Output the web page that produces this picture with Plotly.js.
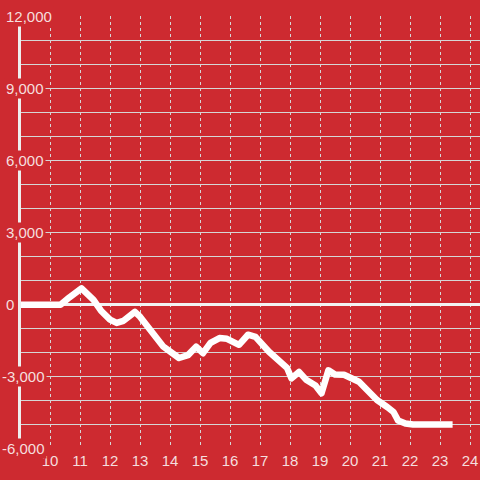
<!DOCTYPE html>
<html>
<head>
<meta charset="utf-8">
<script src="https://cdn.plot.ly/plotly-3.0.1.min.js"></script>
<style>
  html, body { margin: 0; padding: 0; background: #cd2a30; }
  #chart { width: 480px; height: 480px; }
  #chart path.js-line { stroke-linejoin: round !important; }
</style>
</head>
<body>
<div id="chart"></div>
<script>
// Data
const hours = [9.0, 10.35, 10.65, 11.05, 11.45, 11.7, 12.0, 12.22, 12.45, 12.83, 13.0, 13.17, 13.43, 13.78, 14.3, 14.6, 14.87, 15.1, 15.35, 15.65, 15.9, 16.3, 16.6, 16.85, 17.3, 17.68, 17.9, 18.05, 18.3, 18.55, 18.85, 19.05, 19.28, 19.5, 19.8, 20.3, 20.6, 20.9, 21.25, 21.45, 21.6, 21.85, 22.1, 23.42];
const values = [-30, -30, 280, 650, 170, -280, -650, -790, -700, -330, -530, -800, -1170, -1780, -2250, -2130, -1780, -2050, -1620, -1420, -1450, -1700, -1280, -1370, -1990, -2450, -2660, -3100, -2830, -3170, -3400, -3720, -2760, -2940, -2950, -3240, -3650, -4000, -4300, -4500, -4850, -4980, -5020, -5020];

const xTickVals = [10, 11, 12, 13, 14, 15, 16, 17, 18, 19, 20, 21, 22, 23, 24];
const yTickVals = [12000, 9000, 6000, 3000, 0, -3000, -6000];
const yTickText = ['12,000', '9,000', '6,000', '3,000', '0', '-3,000', '-6,000'];

const BG = '#cd2a30';
const TEXT = '#f5dede';
const GRID = '#d6d6d6';
const FONT = 'Liberation Sans, Arial, sans-serif';

const marginL = 21, marginR = 0, marginT = 16, marginB = 32;
const plotW = 480 - marginL - marginR;

function paperX(px) { return (px - marginL) / plotW; }

const annotations = yTickVals.map((v, i) => ({
  xref: 'paper', yref: 'y',
  x: paperX(v < 0 ? 0 : 4), y: v,
  xanchor: 'left', yanchor: 'middle',
  text: yTickText[i],
  showarrow: false,
  bgcolor: BG,
  borderpad: 1,
  font: { family: FONT, size: 15, color: TEXT }
}));

const trace = {
  x: hours, y: values,
  type: 'scatter', mode: 'lines',
  line: { color: '#ffffff', width: 6.5 },
  hoverinfo: 'skip'
};

const layout = {
  width: 480, height: 480,
  paper_bgcolor: BG, plot_bgcolor: BG,
  margin: { l: marginL, r: marginR, t: marginT, b: marginB, pad: 0 },
  showlegend: false,
  font: { family: FONT, size: 15, color: TEXT },
  xaxis: {
    range: [9.0333, 9.0333 + plotW / 30],
    tickmode: 'array', tickvals: xTickVals,
    ticks: '', showline: false, zeroline: false,
    showgrid: true, gridcolor: GRID, gridwidth: 1, griddash: 'dot',
    tickfont: { family: FONT, size: 15, color: TEXT },
    ticklabelstandoff: 2,
    fixedrange: true
  },
  yaxis: {
    range: [-6000, 12000],
    dtick: 1000, tick0: 0,
    showticklabels: false, ticks: '',
    showgrid: true, gridcolor: GRID, gridwidth: 1,
    zeroline: true, zerolinecolor: '#f2f2f2', zerolinewidth: 3,
    showline: true, linecolor: '#eeeeee', linewidth: 3,
    fixedrange: true
  },
  annotations: annotations
};

Plotly.newPlot('chart', [trace], layout, { staticPlot: true, displayModeBar: false });
</script>
</body>
</html>
